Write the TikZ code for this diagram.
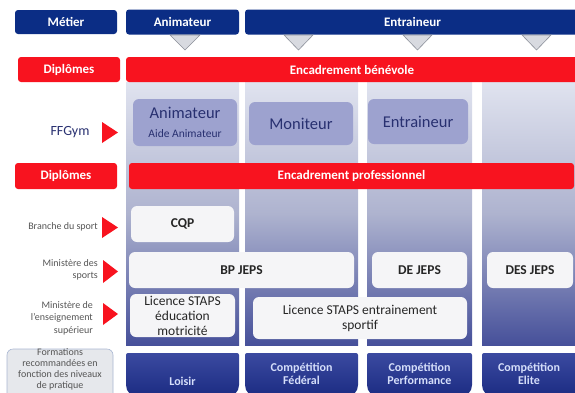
\documentclass[tikz,border=0pt]{standalone}
\usepackage{fontspec}
\setmainfont{Carlito}
\usetikzlibrary{positioning}

\definecolor{navy}{HTML}{0B2D85}
\definecolor{ffred}{HTML}{F8131F}
\definecolor{striptop}{HTML}{E0E3EF}
\definecolor{stripmid}{HTML}{AEB3CF}
\definecolor{stripbot}{HTML}{46509A}
\definecolor{lavender}{HTML}{9DA2CF}
\definecolor{lavtext}{HTML}{283070}
\definecolor{paper}{HTML}{F5F5F7}
\definecolor{levtop}{HTML}{3B4AA0}
\definecolor{levbot}{HTML}{1B2B82}
\definecolor{levtext}{HTML}{D5DEFA}
\definecolor{labgray}{HTML}{555555}
\definecolor{tri}{HTML}{D8DAE0}
\definecolor{triline}{HTML}{8C909A}
\definecolor{formfill}{HTML}{E6E8EC}
\definecolor{formline}{HTML}{A9B6D2}

\tikzset{
  hdr/.style={fill=navy, rounded corners=3pt, text=white, inner sep=0pt,
    font=\fontsize{13}{15}\selectfont\bfseries},
  redbar/.style={fill=ffred, rounded corners=3pt, text=white, inner sep=0pt,
    font=\fontsize{13}{15}\selectfont\bfseries},
  strip/.style={top color=striptop, bottom color=stripbot, middle color=stripmid,
    inner sep=0pt},
  ffbox/.style={fill=lavender, rounded corners=6pt, text=lavtext, inner sep=0pt,
    align=center, font=\fontsize{16.5}{18}\selectfont},
  diplo/.style={fill=paper, rounded corners=6pt, text=black!85, inner sep=0pt,
    align=center, font=\fontsize{13.5}{15}\selectfont},
  sidelab/.style={text=labgray, align=right, anchor=east, inner sep=0pt,
    font=\fontsize{10}{12.5}\selectfont},
  pointer/.style={fill=ffred},
  dropmark/.style={fill=tri, draw=triline, line width=0.6pt},
  level/.style={top color=levtop, bottom color=levbot},
  leveltxt/.style={text=levtext, align=center, inner sep=0pt,
    font=\fontsize{12}{13}\selectfont\bfseries},
}

\begin{document}
\begin{tikzpicture}[x=1pt, y=-1pt]
  \useasboundingbox (0,0) rectangle (575,392);

  % Draw column strips
  \node[strip, minimum width=113pt, minimum height=263pt] (colA) at (182.5,213.5) {};
  \node[strip, minimum width=113pt, minimum height=263pt] (colB) at (301.5,213.5) {};
  \node[strip, minimum width=105pt, minimum height=263pt] (colC) at (419.5,213.5) {};
  \node[strip, minimum width=94pt, minimum height=263pt] (colD) at (529,213.5) {};

  % Draw header row
  \node[hdr, minimum width=102pt, minimum height=24pt] (metier) at (66,22) {Métier};
  \node[hdr, minimum width=113pt, minimum height=25pt] (hAnim) at (182.5,22) {Animateur};
  \node[hdr, minimum width=335pt, minimum height=25pt] (hEntr) at (412.5,22) {Entraineur};

  % Draw drop marks
  \filldraw[dropmark] (170,35) -- (200,35) -- (185,50) -- cycle;
  \filldraw[dropmark] (284,35) -- (313,35) -- (298.5,50) -- cycle;
  \filldraw[dropmark] (403,35) -- (432,35) -- (417.5,50) -- cycle;
  \filldraw[dropmark] (522,35) -- (551,35) -- (536.5,50) -- cycle;

  % Draw red bars
  \node[redbar, minimum width=102pt, minimum height=25pt] (dipA) at (69,69.5) {Diplômes};
  \node[redbar, minimum width=452pt, minimum height=25pt] (benev) at (352,69.5) {Encadrement bénévole};
  \node[redbar, minimum width=102pt, minimum height=26pt] (dipB) at (66,176) {Diplômes};
  \node[redbar, minimum width=445pt, minimum height=26pt] (profe) at (351.5,176) {Encadrement professionnel};

  % Draw FFGym boxes
  \node[ffbox, minimum width=104pt, minimum height=47pt] (ffAnim) at (185,122.5)
    {Animateur\\[1pt]{\fontsize{11.5}{13}\selectfont Aide Animateur}};
  \node[ffbox, minimum width=104pt, minimum height=43pt] (ffMoni) at (301,123.5) {Moniteur};
  \node[ffbox, minimum width=100pt, minimum height=45pt] (ffEntr) at (418,121.5) {Entraineur};

  % Draw diplomas
  \node[diplo, minimum width=103pt, minimum height=36pt] (cqp) at (182.5,224) {\bfseries CQP};
  \node[diplo, minimum width=225pt, minimum height=36pt] (bpjeps) at (241.5,270) {\bfseries BP JEPS};
  \node[diplo, minimum width=95pt, minimum height=36pt] (dejeps) at (419.5,270) {\bfseries DE JEPS};
  \node[diplo, minimum width=86pt, minimum height=36pt] (desjeps) at (530,270) {\bfseries DES JEPS};
  \node[diplo, minimum width=105pt, minimum height=43pt] (licEdu) at (182.5,315.5)
    {Licence STAPS\\éducation\\motricité};
  \node[diplo, minimum width=214pt, minimum height=42pt] (licEnt) at (360,318)
    {Licence STAPS entrainement\\sportif};

  % Draw side labels
  \node[text=lavtext, inner sep=0pt, font=\fontsize{14}{16}\selectfont] (ffgym) at (70,132) {FFGym};
  \node[sidelab] (branche) at (98,227) {Branche du sport};
  \node[sidelab] (minSport) at (98,270) {Ministère des\\sports};
  \node[sidelab] (minEns) at (93,318) {Ministère de\\l'enseignement\\supérieur};
  \fill[pointer] (102,122) -- (102,143) -- (118,132.5) -- cycle;
  \fill[pointer] (102,217) -- (102,238) -- (118,227.5) -- cycle;
  \fill[pointer] (103,260) -- (103,283) -- (118,271.5) -- cycle;
  \fill[pointer] (103,303) -- (103,325) -- (118,314) -- cycle;

  % Draw practice levels
  \shade[level] (126,353) [rounded corners=2pt] -- (239,353) [rounded corners=12pt] -- (239,397) -- (126,397) [rounded corners=2pt] -- cycle;
  \shade[level] (245,353) [rounded corners=2pt] -- (358,353) [rounded corners=12pt] -- (358,397) -- (245,397) [rounded corners=2pt] -- cycle;
  \shade[level] (367,353) [rounded corners=2pt] -- (472,353) [rounded corners=12pt] -- (472,397) -- (367,397) [rounded corners=2pt] -- cycle;
  \shade[level] (482,353) [rounded corners=2pt] -- (578,353) [rounded corners=12pt] -- (578,397) -- (482,397) [rounded corners=2pt] -- cycle;
  \node[leveltxt] (loisir) at (182.5,381) {Loisir};
  \node[leveltxt] (federal) at (301.5,374) {Compétition\\Fédéral};
  \node[leveltxt] (perf) at (419.5,374) {Compétition\\Performance};
  \node[leveltxt] (elite) at (529,374) {Compétition\\Elite};

  % Draw legend
  \filldraw[fill=formfill, draw=formline, line width=0.6pt, rounded corners=6pt] (7,349) rectangle (113,402);
  \node[text=labgray, align=center, inner sep=0pt, anchor=north,
    font=\fontsize{10}{10.8}\selectfont] (formations) at (60,348.5)
    {Formations\\recommandées en\\fonction des niveaux\\de pratique};
\end{tikzpicture}
\end{document}
